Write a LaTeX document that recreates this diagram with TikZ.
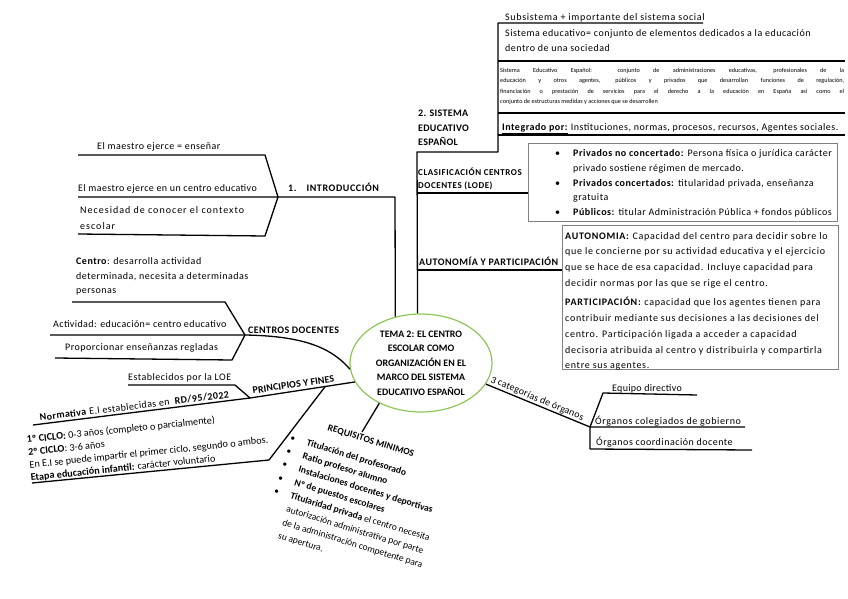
\documentclass[tikz,border=0pt]{standalone}
\usepackage{fontspec}
\setmainfont{Carlito}
\usetikzlibrary{shapes.geometric}
\definecolor{ellgreen}{RGB}{140,198,90}
\definecolor{boxgray}{RGB}{128,128,128}
\newcommand{\Fnt}[3]{\fontsize{#1}{#2}\selectfont\addfontfeatures{LetterSpace=#3}}
\newcommand{\mybul}{\makebox[18pt][l]{•}}
\newcommand{\myind}{\hspace*{18pt}}
\newcommand{\rqb}{\makebox[17pt][l]{•}}
\newcommand{\rqi}{\hspace*{17pt}}
\newcommand{\lines}[1]{\begin{tabular}[t]{@{}l@{}}#1\end{tabular}}
\begin{document}
\begin{tikzpicture}[x=1pt,y=-1pt,
  ln/.style={draw=black, line width=1.3pt, line join=round},
  gbox/.style={draw=boxgray, line width=0.9pt, inner sep=0pt, anchor=north west},
  txt/.style={inner sep=0pt, anchor=base west, font=\Fnt{10}{15}{5}},
  lbl/.style={inner sep=0pt, anchor=base west, font=\Fnt{10}{14.7}{4}\bfseries},
]
\useasboundingbox (0,0) rectangle (848,599);

% central topic
\node[draw=ellgreen, line width=1.2pt, ellipse, minimum width=142pt, minimum height=98pt, inner sep=-4pt, align=center, font=\fontsize{9.9}{14.5}\selectfont\bfseries] (title) at (421,363) {TEMA 2: EL CENTRO\\ESCOLAR COMO\\ORGANIZACIÓN EN EL\\MARCO DEL SISTEMA\\EDUCATIVO ESPAÑOL};

% ---------- 1. INTRODUCCION ----------
\coordinate (iT1) at (78,155);
\coordinate (iT2) at (265,155);
\coordinate (iV) at (278,197);
\coordinate (iM1) at (78,197);
\coordinate (iB1) at (78,234);
\coordinate (iB2) at (265,236);
\coordinate (iC) at (395,197);
\draw[ln] (iT1) -- (iT2) -- (iV) -- (iB2) -- (iB1);
\draw[ln] (iM1) -- (iV) -- (iC) -- (title.119.7);
\node[txt, font=\Fnt{10}{15}{5}] (i1) at (97,149.5) {El maestro ejerce = enseñar};
\node[txt, font=\Fnt{10}{15}{4}] (i2) at (78,191) {El maestro ejerce en un centro educativo};
\node[txt, font=\Fnt{10}{15.5}{10}] (i3) at (80,213.5) {\lines{Necesidad de conocer el contexto\\escolar}};
\node[lbl, font=\Fnt{10}{14.7}{6}\bfseries] (intro) at (288,191.5) {1.\hspace{10pt}INTRODUCCIÓN};

% ---------- 2. SISTEMA EDUCATIVO ----------
\coordinate (sJ) at (417,152);
\coordinate (sK) at (498,152);
\coordinate (sTop) at (498,23);
\coordinate (sTopR) at (703,23);
\coordinate (h1a) at (498,61);
\coordinate (h1b) at (845,61);
\coordinate (h2a) at (498,113);
\coordinate (h2b) at (845,113);
\coordinate (h3a) at (498,135);
\coordinate (h3b) at (845,135);
\draw[ln] (title.94.7) -- (sJ) -- (sK) -- (sTop) -- (sTopR);
\draw[ln] (h1a) -- (h1b);
\draw[ln] (h2a) -- (h2b);
\draw[ln] (h3a) -- (h3b);
\node[lbl, font=\Fnt{10}{14.7}{3}\bfseries] (sis) at (418,116.5) {\lines{2. SISTEMA\\EDUCATIVO\\ESPAÑOL}};
\node[txt, font=\Fnt{10}{15}{7}] (sub) at (505,20.5) {Subsistema + importante del sistema social};
\node[txt, font=\Fnt{10}{15}{5}] (sdef) at (505,36.5) {\lines{Sistema educativo= conjunto de elementos dedicados a la educación\\dentro de una sociedad}};
\node[txt, font=\Fnt{6.2}{10.3}{0}] (sesp) at (500,72.5) {\lines{\makebox[344pt][s]{Sistema Educativo Español: conjunto de administraciones educativas, profesionales de la}\\\makebox[344pt][s]{educación y otros agentes, públicos y privados que desarrollan funciones de regulación,}\\\makebox[344pt][s]{financiación o prestación de servicios para el derecho a la educación en España así como el}\\conjunto de estructuras medidas y acciones que se desarrollen}};
\node[txt, font=\Fnt{10}{15}{5}] (integ) at (502,130.5) {\underline{\textbf{Integrado por:}} Instituciones, normas, procesos, recursos, Agentes sociales.};

% clasificacion
\node[gbox, minimum width=309pt, minimum height=78pt] (bpriv) at (528,143) {};
\coordinate (cJ) at (417,193);
\draw[ln] (cJ) -- (cJ -| bpriv.west);
\node[lbl, font=\Fnt{9}{13}{6}\bfseries] (clas) at (418,175.5) {\lines{CLASIFICACIÓN CENTROS\\DOCENTES (LODE)}};
\node[txt, font=\Fnt{10}{14.75}{5}] (priv) at (555,156.5) {\lines{\mybul\textbf{Privados no concertado:} Persona física o jurídica carácter\\\myind privado sostiene régimen de mercado.\\\mybul\textbf{Privados concertados:} titularidad privada, enseñanza\\\myind gratuita\\\mybul\textbf{Públicos:} titular Administración Pública + fondos públicos}};

% autonomia
\node[gbox, minimum width=276pt, minimum height=144pt] (bauto) at (562,225) {};
\coordinate (aJ) at (417,270);
\draw[ln] (aJ) -- (aJ -| bauto.west);
\node[lbl, font=\Fnt{10}{14}{5}\bfseries] (auto) at (419,265.5) {AUTONOMÍA Y PARTICIPACIÓN};
\node[txt, font=\Fnt{10}{15.8}{7}] (autotxt) at (565,239) {\lines{\textbf{AUTONOMIA:} Capacidad del centro para decidir sobre lo\\que le concierne por su actividad educativa y el ejercicio\\que se hace de esa capacidad. Incluye capacidad para\\decidir normas por las que se rige el centro.\\[3.5pt]\textbf{PARTICIPACIÓN:} capacidad que los agentes tienen para\\contribuir mediante sus decisiones a las decisiones del\\centro. Participación ligada a acceder a capacidad\\decisoria atribuida al centro y distribuirla y compartirla\\entre sus agentes.}};

% ---------- CENTROS DOCENTES ----------
\coordinate (cdV) at (245,335);
\coordinate (cdT1) at (72,302);
\coordinate (cdT2) at (225,302);
\coordinate (cdM1) at (50,335);
\coordinate (cdB1) at (55,358);
\coordinate (cdB2) at (232,360);
\draw[ln] (cdT1) -- (cdT2) -- (cdV) -- (cdB2) -- (cdB1);
\draw[ln] (cdM1) -- (cdV) .. controls (300,336) and (330,346) .. (title.185);
\node[txt, font=\Fnt{10}{14.5}{5}] (cen) at (76,264.5) {\lines{\textbf{Centro}: desarrolla actividad\\determinada, necesita a determinadas\\personas}};
\node[txt, font=\Fnt{10}{15}{4}] (act) at (53,327.5) {Actividad: educación= centro educativo};
\node[txt, font=\Fnt{10}{15}{5}] (prop) at (65,350.5) {Proporcionar enseñanzas regladas};
\node[lbl, font=\Fnt{10}{14.7}{4}\bfseries] (cdl) at (248,333.5) {CENTROS DOCENTES};

% ---------- PRINCIPIOS Y FINES ----------
\coordinate (pL) at (128,385);
\coordinate (pL2) at (235,385);
\coordinate (pV) at (250,398);
\coordinate (pN) at (33,425);
\coordinate (pB) at (325,386.8);
\coordinate (pD) at (269,460);
\coordinate (pE) at (32,483);
\draw[ln] (pL) -- (pL2) -- (pV);
\draw[ln] (pN) -- (pV) -- (title.196.4);
\draw[ln] (pB) -- (pD) -- (pE);
\node[txt, font=\Fnt{10}{15}{5}] (est) at (128,380.5) {Establecidos por la LOE};
\node[lbl, font=\Fnt{10}{14}{1}\bfseries, rotate=8.5] (pf) at (253,394) {PRINCIPIOS Y FINES};
\node[txt, font=\Fnt{10}{15}{4}, rotate=7] (norm) at (40,421) {\textbf{Normativa} E.I establecidas en\ \ \textbf{RD/95/2022}};
\node[txt, font=\Fnt{10.2}{12.7}{0}, rotate=6] (ciclo) at (27,443) {\lines{\textbf{1º CICLO:} 0-3 años (completo o parcialmente)\\\textbf{2º CICLO}: 3-6 años\\En E.I se puede impartir el primer ciclo, segundo o ambos.\\\textbf{Etapa educación infantil:} carácter voluntario}};

% ---------- REQUISITOS MINIMOS ----------
\coordinate (rq) at (362,432);
\draw[ln] (title.224.3) -- (rq);
\node[lbl, font=\Fnt{9.5}{14}{1}\bfseries, rotate=-17.5] (req) at (327,430) {REQUISITOS MINIMOS};
\node[txt, font=\Fnt{9.5}{13.9}{0}, rotate=-17] (reqlist) at (289.7,440.3) {\lines{\rqb\textbf{Titulación del profesorado}\\\rqb\textbf{Ratio profesor alumno}\\\rqb\textbf{Instalaciones docentes y deportivas}\\\rqb\textbf{Nº de puestos escolares}\\\rqb\textbf{Titularidad privada} el centro necesita\\\rqi autorización administrativa por parte\\\rqi de la administración competente para\\\rqi su apertura.}};

% ---------- 3 CATEGORIAS ----------
\coordinate (oJ) at (590,427);
\coordinate (oE1) at (603,393);
\coordinate (oE2) at (697,395);
\coordinate (oC) at (745,427);
\coordinate (oD1) at (590,449);
\coordinate (oD2) at (752,450);
\draw[ln] (title.342.6) -- (oJ) -- (oC);
\draw[ln] (oJ) -- (oE1) -- (oE2);
\draw[ln] (oJ) -- (oD1) -- (oD2);
\node[txt, font=\Fnt{10}{15}{2}, rotate=-22.7] (cat) at (490,382) {3 categorías de órganos};
\node[txt, font=\Fnt{10}{15}{3}] (eq) at (612,391.5) {Equipo directivo};
\node[txt, font=\Fnt{10}{15}{6}] (col) at (595,424.5) {Órganos colegiados de gobierno};
\node[txt, font=\Fnt{10}{15}{5}] (coord) at (596,445) {Órganos coordinación docente};
\end{tikzpicture}
\end{document}
